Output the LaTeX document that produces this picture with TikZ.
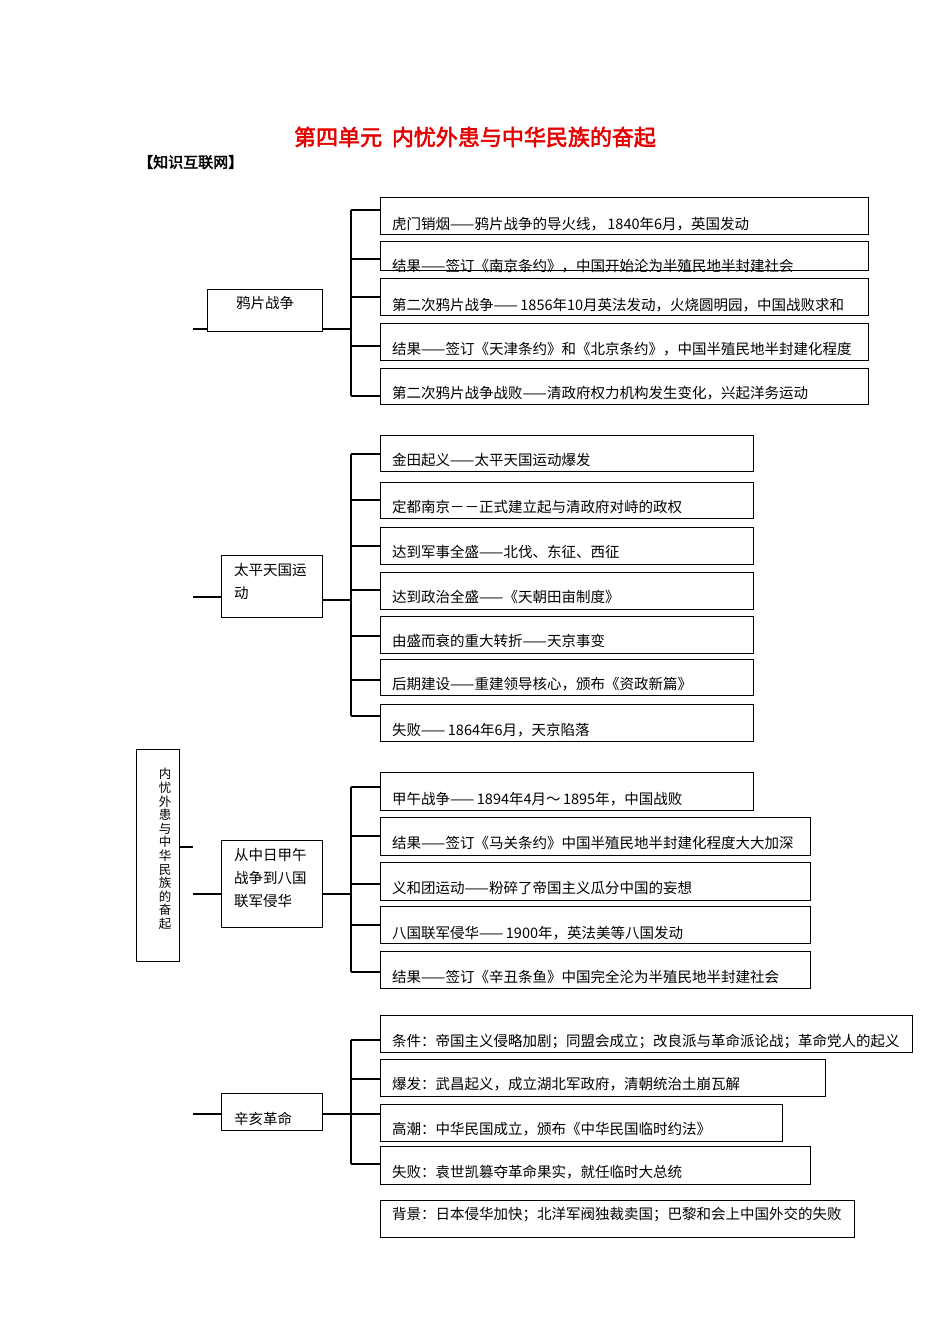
\documentclass[tikz,border=0pt]{standalone}
\usepackage{fontspec}
\setmainfont{Noto Sans CJK SC}[AutoFakeBold=2.5]
\usetikzlibrary{calc}
\tikzset{boxline/.style={draw=black,line width=1.1pt},
  txt/.style={anchor=west,inner sep=0pt,font=\fontsize{14.5}{17}\selectfont},
  wire/.style={draw=black,line width=1.1pt}}
\newcommand\leaf[7]{%
  \node[boxline,anchor=north west,minimum width={#4-#2},minimum height={#5-#3},inner sep=0pt] (#1) at (#2,#3) {};
  \node[txt] (#1t) at (392,#6) {#7};}
\begin{document}
\begin{tikzpicture}[x={(1pt,0)},y={(0,-1pt)}]
\useasboundingbox (0,0) rectangle (950,1344);
\node[font=\fontsize{22}{24}\selectfont\bfseries,text=red!90!black] (title) at (475,137) {第四单元\ \ 内忧外患与中华民族的奋起};
\node[font=\fontsize{15}{17}\selectfont\bfseries,anchor=west,inner sep=0pt] (sub) at (138,162) {【知识互联网】};
% main box
\node[boxline,anchor=north west,minimum width=43,minimum height=212,inner sep=0pt] (main) at (136,749) {};
\node[font=\fontsize{12.5}{13.6}\selectfont,align=center,text width=15pt,inner sep=0pt] (maint) at (165,849) {内\\忧\\外\\患\\与\\中\\华\\民\\族\\的\\奋\\起};
\coordinate (ms) at (193,847);
\draw[wire] (main.east |- ms) -- (ms);
% group 1
\node[boxline,anchor=north west,minimum width=115,minimum height=42,inner sep=0pt] (g1) at (207,289) {};
\node[txt] (g1t) at (236,303) {鸦片战争};
\coordinate (g1l) at (193,329); \coordinate (g1s) at (351,329);
\draw[wire] (g1l) -- (g1.west |- g1l); \draw[wire] (g1.east |- g1s) -- (g1s);
\draw[wire] (351,210) -- (351,396);
\leaf{a1}{380}{197}{868}{234}{224}{虎门销烟——鸦片战争的导火线，\,1840年6月，英国发动}
\leaf{a2}{380}{241}{868}{270}{266}{结果——签订《南京条约》，中国开始沦为半殖民地半封建社会}
\leaf{a3}{380}{278}{868}{315}{305}{第二次鸦片战争——\,1856年10月英法发动，火烧圆明园，中国战败求和}
\leaf{a4}{380}{323}{868}{360}{349}{结果——签订《天津条约》和《北京条约》，中国半殖民地半封建化程度}
\leaf{a5}{380}{368}{868}{404}{393}{第二次鸦片战争战败——清政府权力机构发生变化，兴起洋务运动}
\foreach \n/\y in {a1/210,a2/259,a3/297,a4/346,a5/396} \draw[wire] (351,\y) -- (\n.west |- 0,\y);
% group 2
\node[boxline,anchor=north west,minimum width=101,minimum height=62,inner sep=0pt] (g2) at (221,555) {};
\node[txt,align=left] (g2t) at (234,581) {太平天国运\\[6pt]动};
\coordinate (g2l) at (193,597); \coordinate (g2s) at (351,600);
\draw[wire] (g2l) -- (g2.west |- g2l); \draw[wire] (g2.east |- g2s) -- (g2s);
\draw[wire] (351,454) -- (351,716);
\leaf{b1}{380}{435}{753}{471}{460}{金田起义——太平天国运动爆发}
\leaf{b2}{380}{482}{753}{518}{507}{定都南京－－正式建立起与清政府对峙的政权}
\leaf{b3}{380}{527}{753}{564}{552}{达到军事全盛——北伐、东征、西征}
\leaf{b4}{380}{572}{753}{609}{597}{达到政治全盛——《天朝田亩制度》}
\leaf{b5}{380}{616}{753}{653}{641}{由盛而衰的重大转折——天京事变}
\leaf{b6}{380}{659}{753}{695}{684}{后期建设——重建领导核心，颁布《资政新篇》}
\leaf{b7}{380}{704}{753}{741}{730}{失败——\,1864年6月，天京陷落}
\foreach \n/\y in {b1/454,b2/500,b3/546,b4/590,b5/636,b6/680,b7/716} \draw[wire] (351,\y) -- (\n.west |- 0,\y);
% group 3
\node[boxline,anchor=north west,minimum width=101,minimum height=87,inner sep=0pt] (g3) at (221,840) {};
\node[txt,align=left] (g3t) at (234,878) {从中日甲午\\[6pt]战争到八国\\[6pt]联军侵华};
\coordinate (g3l) at (193,894); \coordinate (g3s) at (351,894);
\draw[wire] (g3l) -- (g3.west |- g3l); \draw[wire] (g3.east |- g3s) -- (g3s);
\draw[wire] (351,787) -- (351,972);
\leaf{c1}{380}{772}{753}{810}{799}{甲午战争——\,1894年4月～\,1895年，中国战败}
\leaf{c2}{380}{817}{810}{855}{843}{结果——签订《马关条约》中国半殖民地半封建化程度大大加深}
\leaf{c3}{380}{862}{810}{900}{888}{义和团运动——粉碎了帝国主义瓜分中国的妄想}
\leaf{c4}{380}{906}{810}{943}{933}{八国联军侵华——\,1900年，英法美等八国发动}
\leaf{c5}{380}{951}{810}{988}{977}{结果——签订《辛丑条鱼》中国完全沦为半殖民地半封建社会}
\foreach \n/\y in {c1/787,c2/836,c3/884,c4/925,c5/972} \draw[wire] (351,\y) -- (\n.west |- 0,\y);
% group 4
\node[boxline,anchor=north west,minimum width=101,minimum height=37,inner sep=0pt] (g4) at (221,1093) {};
\node[txt] (g4t) at (234,1119) {辛亥革命};
\coordinate (g4l) at (193,1114); \coordinate (g4s) at (351,1114);
\draw[wire] (g4l) -- (g4.west |- g4l); \draw[wire] (g4.east |- g4s) -- (g4s);
\draw[wire] (351,1040) -- (351,1164);
\leaf{d1}{380}{1015}{912}{1052}{1041}{条件：帝国主义侵略加剧；同盟会成立；改良派与革命派论战；革命党人的起义}
\leaf{d2}{380}{1059}{825}{1096}{1084}{爆发：武昌起义，成立湖北军政府，清朝统治土崩瓦解}
\leaf{d3}{380}{1104}{782}{1141}{1129}{高潮：中华民国成立，颁布《中华民国临时约法》}
\leaf{d4}{380}{1146}{810}{1184}{1172}{失败：袁世凯篡夺革命果实，就任临时大总统}
\foreach \n/\y in {d1/1040,d2/1079,d3/1114,d4/1164} \draw[wire] (351,\y) -- (\n.west |- 0,\y);
\leaf{e1}{380}{1200}{854}{1237}{1214}{背景：日本侵华加快；北洋军阀独裁卖国；巴黎和会上中国外交的失败}
\end{tikzpicture}
\end{document}
